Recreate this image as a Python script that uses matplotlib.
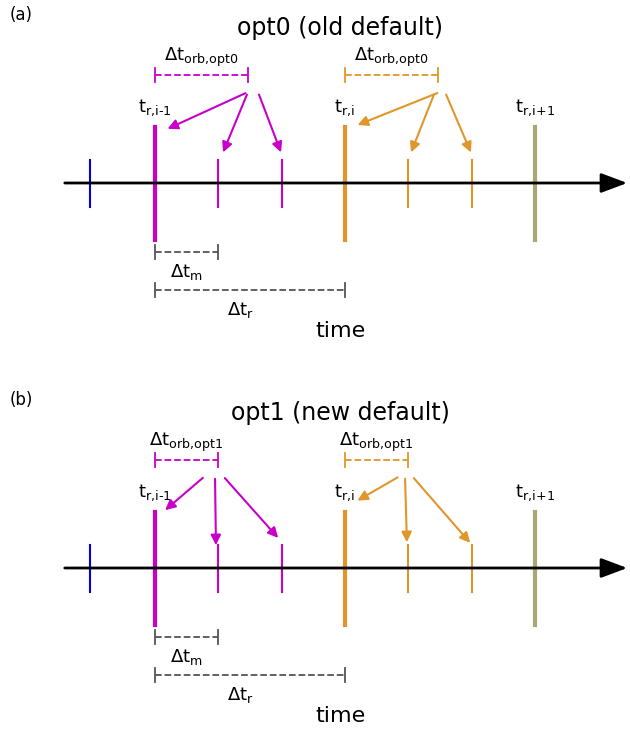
import matplotlib.pyplot as plt

W, H = 630, 731
MAG, ORA, OLI, BLU, GRY = '#c800c8', '#e0962a', '#a8a870', '#0000e0', '#555555'

# tick positions (pixels along the time axis)
tick_x = [90, 155, 218, 282, 345, 408, 472, 535]
tick_col = [BLU, MAG, MAG, MAG, ORA, ORA, ORA, OLI]
tick_big = [False, True, False, False, True, False, False, True]
panels = ['(a)', '(b)']
titles = ['opt0 (old default)', 'opt1 (new default)']
orb_lab = ['opt0', 'opt1']
orb_end = [248, 218]     # end of magenta orb bracket
offsets = [0, 385]
# arrow sources / targets (magenta, orange) per panel
arrows = [
    [((248, 92), (165, 130)), ((248, 92), (222, 155)), ((258, 92), (282, 155)),
     ((440, 92), (355, 126)), ((435, 92), (410, 155)), ((445, 92), (472, 155))],
    [((205, 476 - 385), (163, 512 - 385)), ((215, 476 - 385), (216, 548 - 385)),
     ((223, 476 - 385), (280, 540 - 385)),
     ((400, 476 - 385), (355, 502 - 385)), ((405, 476 - 385), (407, 545 - 385)),
     ((412, 476 - 385), (472, 545 - 385))],
]

fig = plt.figure(figsize=(W / 100, H / 100), dpi=100)
ax = fig.add_axes([0, 0, 1, 1])
ax.set_xlim(0, W)
ax.set_ylim(H, 0)
ax.axis('off')

def bracket(x0, x1, y, c):
    ax.plot([x0, x1], [y, y], '--', color=c, lw=1.3)
    for x in (x0, x1):
        ax.plot([x, x], [y - 7, y + 7], color=c, lw=1.3)

for p in range(2):
    o = offsets[p]
    ax.text(10, 15 + o, panels[p], fontsize=12, va='center')
    ax.text(340, 28 + o, titles[p], fontsize=17, ha='center', va='center')
    ax.annotate('', xy=(630, 183 + o), xytext=(62, 183 + o), annotation_clip=False,
                arrowprops=dict(arrowstyle='-|>,head_width=0.6,head_length=1.6', color='k', lw=2))
    for x, c, big in zip(tick_x, tick_col, tick_big):
        if big:
            ax.plot([x, x], [127 + o, 240 + o], color=c, lw=3)
        else:
            ax.plot([x, x], [160 + o, 207 + o], color=c, lw=1.5)
    for x, s in zip([155, 345, 535], ['i\u20101', 'i', 'i\\!+\\!1']):
        ax.text(x, 108 + o, r'$\mathregular{t_{r,\!%s}}$' % s, fontsize=13,
                ha='center', va='center')
    e = orb_end[p]
    bracket(155, e, 75 + o, MAG)
    bracket(345, 345 + (e - 155), 75 + o, ORA)
    for x0 in (155, 345):
        ax.text(x0 + (e - 155) / 2, 57 + o,
                r'$\mathregular{\Delta t_{orb,\!%s}}$' % orb_lab[p], fontsize=13,
                ha='center', va='center', color='k')
    for k, (s, t) in enumerate(arrows[p]):
        c = MAG if k < 3 else ORA
        ax.annotate('', xy=(t[0], t[1] + o), xytext=(s[0], s[1] + o),
                    arrowprops=dict(arrowstyle='-|>,head_width=0.3,head_length=0.6', color=c, lw=1.5))
    bracket(155, 218, 252 + o, GRY)
    ax.text(186, 272 + o, r'$\mathregular{\Delta t_m}$', fontsize=13, ha='center', va='center')
    bracket(155, 345, 290 + o, GRY)
    ax.text(240, 310 + o, r'$\mathregular{\Delta t_r}$', fontsize=13, ha='center', va='center')
    ax.text(340, 331 + o, 'time', fontsize=16, ha='center', va='center')

fig.savefig('out.png', dpi=100)
